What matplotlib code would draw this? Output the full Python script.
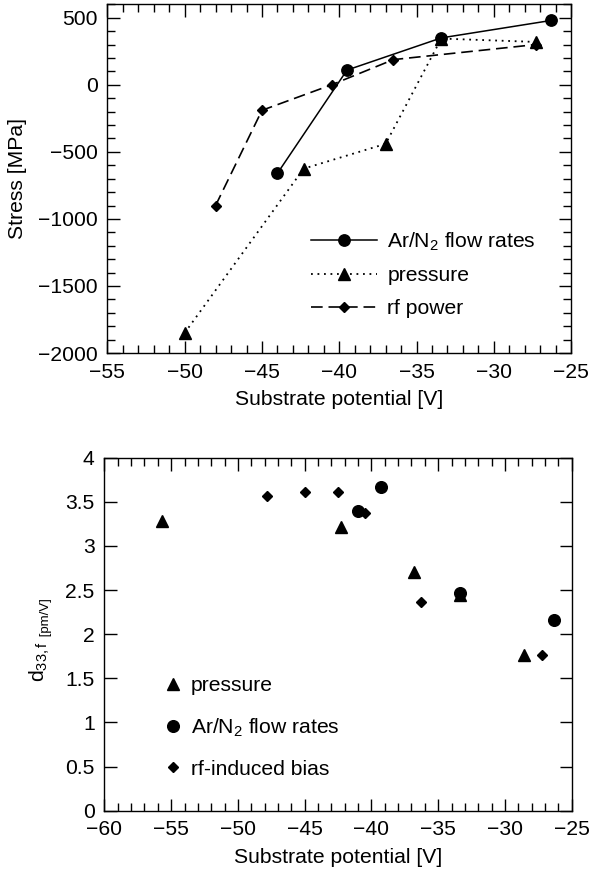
import matplotlib
matplotlib.use("Agg")
import matplotlib.pyplot as plt
from matplotlib.lines import Line2D
from matplotlib.ticker import MultipleLocator

plt.rcParams['font.family'] = ['Liberation Sans', 'DejaVu Sans']
plt.rcParams['mathtext.fontset'] = 'custom'
plt.rcParams['mathtext.rm'] = 'Liberation Sans'
plt.rcParams['mathtext.it'] = 'Liberation Sans'

FS = 15.2

# film stress vs. substrate potential
flow_x = [-44.0, -39.5, -33.4, -26.3]
flow_y = [-660, 110, 350, 480]
press_x = [-50.0, -42.3, -37.0, -33.4, -27.3]
press_y = [-1850, -625, -440, 345, 320]
rf_x = [-48.0, -45.0, -40.5, -36.5, -27.3]
rf_y = [-900, -190, 0, 188, 300]

# piezoelectric coefficient vs. substrate potential
d33_press_x = [-55.7, -42.3, -36.8, -33.4, -28.6]
d33_press_y = [3.28, 3.21, 2.70, 2.45, 1.76]
d33_flow_x = [-41.0, -39.3, -33.4, -26.3]
d33_flow_y = [3.40, 3.67, 2.47, 2.16]
d33_rf_x = [-47.8, -45.0, -42.5, -40.5, -36.3, -27.2]
d33_rf_y = [3.57, 3.61, 3.61, 3.37, 2.36, 1.77]

top_xticks = [-55, -50, -45, -40, -35, -30, -25]
top_yticks = [-2000, -1500, -1000, -500, 0, 500]
bot_xticks = [-60, -55, -50, -45, -40, -35, -30, -25]
bot_yticks = [0, 0.5, 1, 1.5, 2, 2.5, 3, 3.5, 4]
bot_yticklabels = ['0', '0.5', '1', '1.5', '2', '2.5', '3', '3.5', '4']

flow_label = 'Ar/N$_2$ flow rates'


def style_axes(ax):
    ax.tick_params(which='both', direction='in', top=True, right=True,
                   width=1.0, labelsize=FS, pad=7)
    ax.tick_params(which='major', length=9)
    ax.tick_params(which='minor', length=6)
    for s in ax.spines.values():
        s.set_linewidth(1.0)


fig = plt.figure(figsize=(5.9, 8.76), dpi=100)

# ---- top panel
ax1 = fig.add_axes([0.182, 0.597, 0.786, 0.398])
ax1.plot(flow_x, flow_y, color='black', lw=1.1, marker='o', ms=8.2,
         label=flow_label)
ax1.plot(press_x, press_y, color='black', lw=1.3, marker='^', ms=8,
         dashes=(1.0, 2.6), label='pressure')
ax1.plot(rf_x, rf_y, color='black', lw=1.2, marker='D', ms=4.8,
         dashes=(7, 3.5), label='rf power')

ax1.set_xlim(-55, -25)
ax1.set_ylim(-2000, 600)
ax1.set_xticks(top_xticks)
ax1.xaxis.set_minor_locator(MultipleLocator(1))
ax1.set_yticks(top_yticks)
ax1.yaxis.set_minor_locator(MultipleLocator(100))
style_axes(ax1)
ax1.set_xlabel('Substrate potential [V]', fontsize=FS, labelpad=6)
ax1.set_ylabel('Stress [MPa]', fontsize=FS, labelpad=8)

ax1.legend(loc='upper left', bbox_to_anchor=(0.44, 0.352), frameon=False,
           fontsize=FS, handlelength=3.1, handletextpad=0.5,
           labelspacing=0.65, borderpad=0, borderaxespad=0, numpoints=1)

# ---- bottom panel
ax2 = fig.add_axes([0.177, 0.0745, 0.792, 0.403])
ax2.plot(d33_press_x, d33_press_y, ls='none', color='black', marker='^', ms=8.8)
ax2.plot(d33_flow_x, d33_flow_y, ls='none', color='black', marker='o', ms=8.4)
ax2.plot(d33_rf_x, d33_rf_y, ls='none', color='black', marker='D', ms=5.0)

ax2.set_xlim(-60, -25)
ax2.set_ylim(0, 4)
ax2.set_xticks(bot_xticks)
ax2.xaxis.set_minor_locator(MultipleLocator(1))
ax2.set_yticks(bot_yticks, bot_yticklabels)
style_axes(ax2)
ax2.set_xlabel('Substrate potential [V]', fontsize=FS, labelpad=6)

# y label: large "d" with small subscript and unit
t1 = fig.text(0.068, 0.222, r'd$_{\mathregular{33,f}}$', rotation=90,
              fontsize=FS, ha='center', va='bottom')
ax2.annotate(' [pm/V]', xy=(1, 1), xycoords=t1, rotation=90, fontsize=9.5,
             ha='right', va='bottom')

handles = [
    Line2D([], [], ls='none', color='black', marker='^', ms=8.8),
    Line2D([], [], ls='none', color='black', marker='o', ms=8.4),
    Line2D([], [], ls='none', color='black', marker='D', ms=5.0),
]
ax2.legend(handles, ['pressure', flow_label, 'rf-induced bias'],
           loc='upper left', bbox_to_anchor=(0.13, 0.381), frameon=False,
           fontsize=FS, handlelength=0.75, handletextpad=0.45,
           labelspacing=1.0, borderpad=0, borderaxespad=0)

fig.savefig('out.png', dpi=100)
